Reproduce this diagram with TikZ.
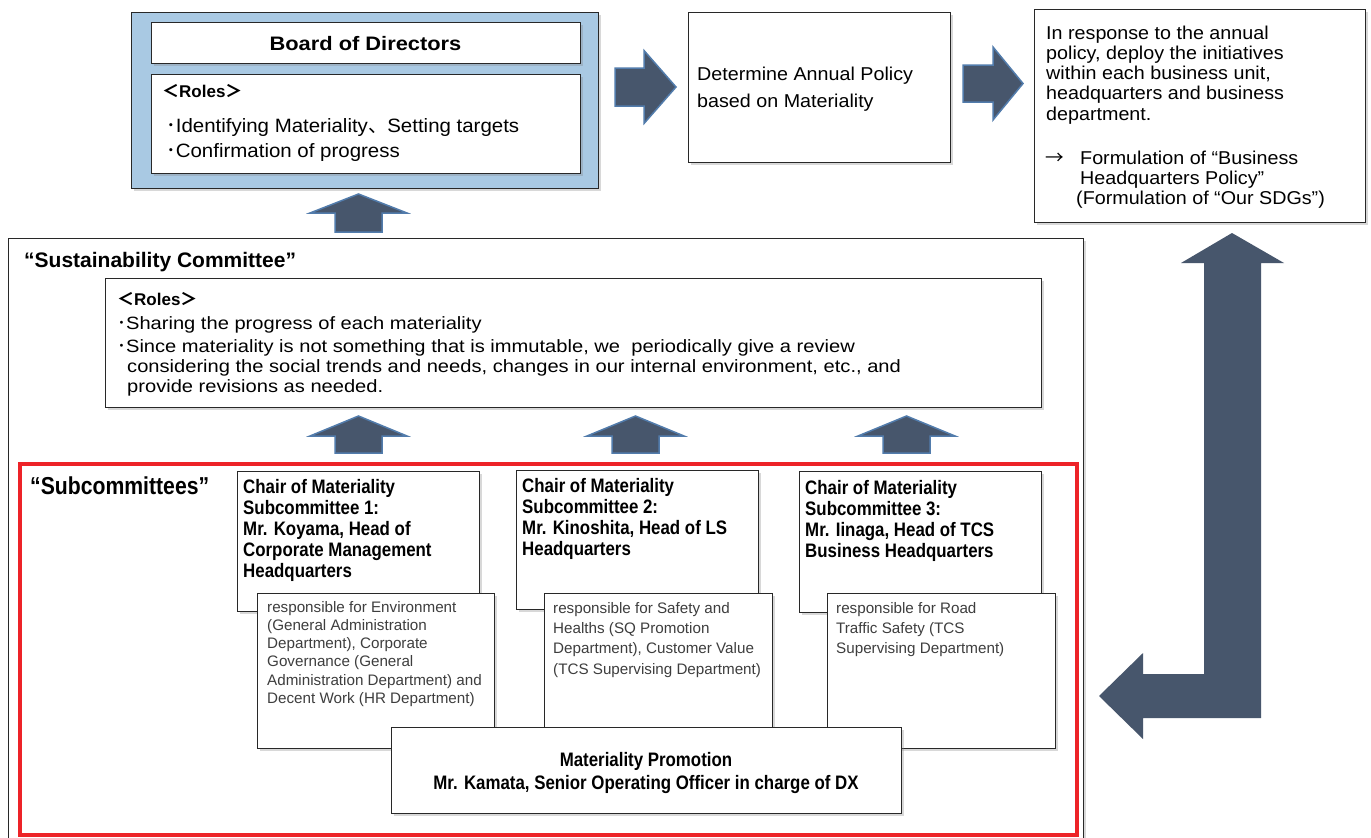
\documentclass[tikz,border=0pt]{standalone}
\usepackage{fontspec}
\setmainfont{Liberation Sans}
\newfontfamily\cjk{Noto Sans CJK JP}
\newfontfamily\condfont{Liberation Sans}[FakeStretch=0.865]
\newfontfamily\widefont{Liberation Sans}[FakeStretch=1.13]
\newfontfamily\normfont{Liberation Sans}[FakeStretch=1.06]
\newfontfamily\boardfont{Liberation Sans}[FakeStretch=1.12]
\usetikzlibrary{shadows}

\definecolor{boardblue}{RGB}{169,201,227}
\definecolor{arrowfill}{RGB}{71,86,108}
\definecolor{arrowedge}{RGB}{82,124,172}
\definecolor{framered}{RGB}{237,35,40}
\definecolor{boxline}{RGB}{40,40,40}
\definecolor{resptext}{RGB}{62,62,62}

% stacked lines whose baseline is the first line
\newcommand\mlines[2][l]{\begin{tabular}[t]{@{}#1@{}}#2\end{tabular}}
\newcommand\roles{{\cjk ＜}Roles{\cjk ＞}}
\newcommand\bul{{\cjk ･}}

\tikzset{
  box/.style={draw=boxline, line width=1.2pt, fill=white, inner sep=0pt,
    anchor=north west,
    drop shadow={shadow xshift=2.5pt, shadow yshift=-2.5pt, opacity=0.3}},
  lbl/.style={inner sep=0pt, anchor=base west},
  chairtxt/.style={lbl, font=\condfont\bfseries\fontsize{19.5}{21}\selectfont},
  resptxt/.style={lbl, text=resptext, font=\fontsize{15.2}{#1}\selectfont},
  bodytxt/.style={lbl, font=\normfont\fontsize{18.6}{#1}\selectfont},
  blockarrow/.style={fill=arrowfill, draw=arrowedge, line width=1.5pt, line join=miter},
}

% upward block arrow: centre x, tip y, head base y, tail y
\newcommand\blockup[4]{%
  \draw[blockarrow] (#1,#2) -- ({#1+48.5},#3) -- ({#1+23.5},#3) -- ({#1+23.5},#4)
    -- ({#1-23.5},#4) -- ({#1-23.5},#3) -- ({#1-48.5},#3) -- cycle;}
% rightward block arrow: tail x, head base x, tip x, centre y, shaft half, head half
\newcommand\blockright[6]{%
  \draw[blockarrow] (#1,{#4-#5}) -- (#2,{#4-#5}) -- (#2,{#4-#6}) -- (#3,#4)
    -- (#2,{#4+#6}) -- (#2,{#4+#5}) -- (#1,{#4+#5}) -- cycle;}

\begin{document}
\begin{tikzpicture}[x=1pt, y=-1pt]
\useasboundingbox (0,0) rectangle (1371,838);
\clip (0,0) rectangle (1371,838);
\fill[white] (0,0) rectangle (1371,838);

% ---------- Sustainability Committee frame ----------
\node[box, minimum width=1075pt, minimum height=640pt] (sustframe) at (8,238) {};
\node[lbl, font=\bfseries\fontsize{21}{24}\selectfont] (susttitle) at (24,267)
  {“Sustainability Committee”};

% ---------- Board of Directors ----------
\node[box, fill=boardblue, minimum width=467pt, minimum height=176pt] (board) at (131,12) {};
\node[box, minimum width=429pt, minimum height=41pt] (bod) at (151,22) {};
\node[inner sep=0pt, anchor=base, font=\boardfont\bfseries\fontsize{19.5}{21}\selectfont]
  (bodtitle) at (365.5,50) {Board of Directors};
\node[box, minimum width=429pt, minimum height=99pt] (boardroles) at (151,74) {};
\node[lbl, font=\bfseries\fontsize{17}{20}\selectfont] (boardrolesh) at (162,97) {\roles};
\node[lbl, font=\normfont\fontsize{19.3}{25.5}\selectfont] (boardrolest) at (166,132)
  {\mlines{\bul Identifying Materiality{\cjk 、}Setting targets\\ \bul Confirmation of progress}};

% ---------- Annual policy ----------
\node[box, minimum width=262pt, minimum height=150pt] (policy) at (688,12) {};
\node[bodytxt=27] (policyt) at (697,80)
  {\mlines{Determine Annual Policy\\based on Materiality}};

% ---------- Deployment ----------
\node[box, minimum width=331pt, minimum height=213pt] (deploy) at (1034,9) {};
\node[bodytxt=20.3] (deployt) at (1046,39)
  {\mlines{In response to the annual\\policy, deploy the initiatives\\within each business unit,\\headquarters and business\\department.}};
\node[bodytxt=20.3] (deployf) at (1045,164)
  {\mlines{\makebox[35pt][l]{\cjk →}Formulation of “Business\\
    \hspace{35pt}Headquarters Policy”\\
    \hspace{31pt}(Formulation of “Our SDGs”)}};

% ---------- flow arrows ----------
\blockright{615}{644}{676}{87}{19}{36.5}
\blockright{963}{993}{1023}{83.5}{18.5}{36.5}
\blockup{358.5}{194}{213}{232}
\blockup{358.5}{416}{436}{453}
\blockup{635.5}{416}{436}{453}
\blockup{906.5}{416}{436}{453}

% feedback arrow on the right
\fill[arrowfill] (1232,233) -- (1284,263) -- (1261,263) -- (1261,718) -- (1143,718)
  -- (1143,739) -- (1099,696) -- (1143,653) -- (1143,674) -- (1204,674)
  -- (1204,263) -- (1181,263) -- cycle;

% ---------- Committee roles ----------
\node[box, minimum width=936pt, minimum height=129pt] (sustroles) at (105,278) {};
\node[lbl, font=\bfseries\fontsize{17}{20}\selectfont] (sustrolesh) at (117,305) {\roles};
\node[lbl, font=\widefont\fontsize{17.8}{20}\selectfont] (sustrolest) at (117,329)
  {\mlines{\bul Sharing the progress of each materiality\\[3pt]
    \bul Since materiality is not something that is immutable, we\ \ periodically give a review\\
    \hspace{10pt}considering the social trends and needs, changes in our internal environment, etc., and\\
    \hspace{10pt}provide revisions as needed.}};

% ---------- Subcommittees ----------
\node[draw=framered, line width=4pt, inner sep=0pt, anchor=north west,
  minimum width=1057pt, minimum height=371pt] (subframe) at (18,462) {};
\node[lbl, font=\condfont\bfseries\fontsize{24.5}{26}\selectfont] (subtitle) at (30,494)
  {“Subcommittees”};

\node[box, minimum width=242pt, minimum height=140pt] (chair1) at (237,471) {};
\node[chairtxt] (chair1t) at (243,493.3)
  {\mlines{Chair of Materiality\\Subcommittee 1:\\Mr. Koyama, Head of\\Corporate Management\\Headquarters}};
\node[box, minimum width=237pt, minimum height=155pt] (resp1) at (257,593) {};
\node[resptxt=18.2] (resp1t) at (267,612.3)
  {\mlines{responsible for Environment\\(General Administration\\Department), Corporate\\Governance (General\\Administration Department) and\\Decent Work (HR Department)}};

\node[box, minimum width=242pt, minimum height=139pt] (chair2) at (516,470) {};
\node[chairtxt] (chair2t) at (522,492.7)
  {\mlines{Chair of Materiality\\Subcommittee 2:\\Mr. Kinoshita, Head of LS\\Headquarters}};
\node[box, minimum width=228pt, minimum height=155pt] (resp2) at (544,593) {};
\node[resptxt=20.3] (resp2t) at (553,613.3)
  {\mlines{responsible for Safety and\\Healths (SQ Promotion\\Department), Customer Value\\(TCS Supervising Department)}};

\node[box, minimum width=242pt, minimum height=141pt] (chair3) at (799,471) {};
\node[chairtxt] (chair3t) at (805,494)
  {\mlines{Chair of Materiality\\Subcommittee 3:\\Mr. Iinaga, Head of TCS\\Business Headquarters}};
\node[box, minimum width=228pt, minimum height=155pt] (resp3) at (827,593) {};
\node[resptxt=20.3] (resp3t) at (836,613.3)
  {\mlines{responsible for Road\\Traffic Safety (TCS\\Supervising Department)}};

\node[box, minimum width=510pt, minimum height=86pt] (promo) at (391,727) {};
\node[inner sep=0pt, anchor=base, font=\condfont\bfseries\fontsize{19.5}{23.3}\selectfont]
  (promot) at (646,766)
  {\mlines[c]{Materiality Promotion\\Mr. Kamata, Senior Operating Officer in charge of DX}};
\end{tikzpicture}
\end{document}
